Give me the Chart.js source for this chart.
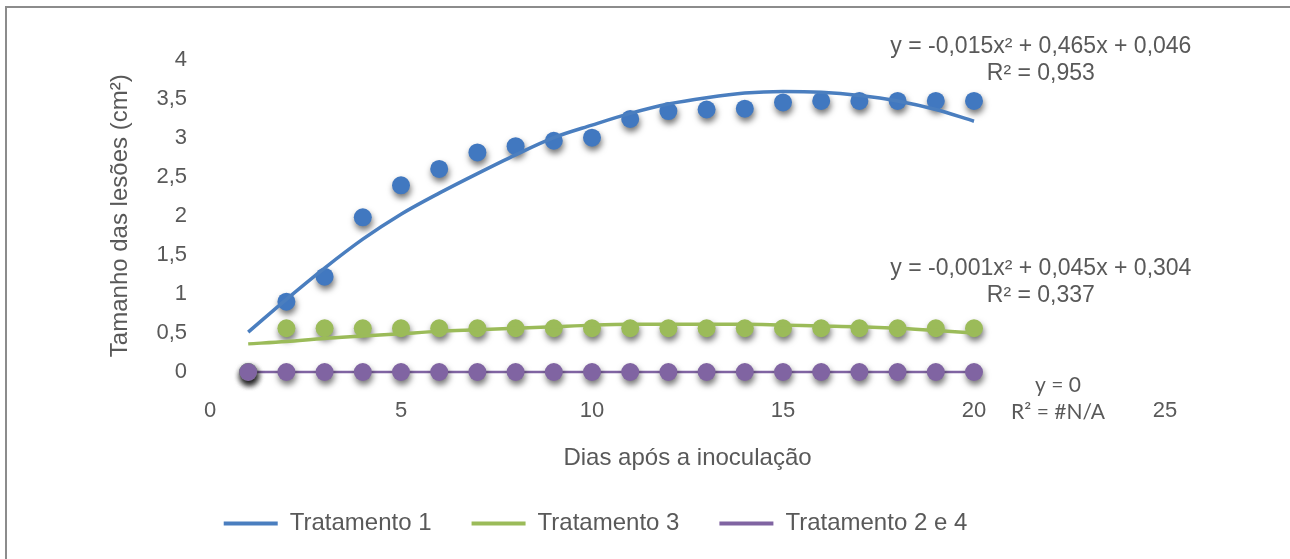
<!DOCTYPE html>
<html>
<head>
<meta charset="utf-8">
<script src="https://cdn.jsdelivr.net/npm/chart.js@4.4.0/dist/chart.umd.min.js"></script>
<style>
  html, body { margin: 0; padding: 0; background: #fff; overflow: hidden; }
  #frame { position: absolute; left: 5px; top: 6px; width: 1400px; height: 700px;
           border-top: 2px solid #8c8c8c; border-left: 2px solid #8c8c8c; }
  #wrap { position: absolute; left: 0; top: 0; width: 1290px; height: 559px; }
</style>
</head>
<body>
<div id="frame"></div>
<div id="wrap"><canvas id="lesoes"></canvas></div>
<script>
// dias após a inoculação
const days = [1, 2, 3, 4, 5, 6, 7, 8, 9, 10, 11, 12, 13, 14, 15, 16, 17, 18, 19, 20];

// tamanho das lesões (cm²)
const trat1 = [0, 0.90, 1.22, 1.98, 2.39, 2.60, 2.81, 2.89, 2.96, 3.00, 3.24, 3.34, 3.36, 3.37, 3.45, 3.47, 3.47, 3.47, 3.47, 3.47];
const trat3 = [0, 0.56, 0.56, 0.56, 0.56, 0.56, 0.56, 0.56, 0.56, 0.56, 0.56, 0.56, 0.56, 0.56, 0.56, 0.56, 0.56, 0.56, 0.56, 0.56];
const trat24 = [0, 0, 0, 0, 0, 0, 0, 0, 0, 0, 0, 0, 0, 0, 0, 0, 0, 0, 0, 0];

// linhas de tendência (polinomial)
const trend1 = [0.51, 0.93, 1.33, 1.70, 2.02, 2.29, 2.54, 2.78, 3.00, 3.16, 3.31, 3.43, 3.51, 3.57, 3.59, 3.58, 3.54, 3.47, 3.36, 3.21];
const trend3 = [0.36, 0.39, 0.43, 0.46, 0.49, 0.52, 0.54, 0.56, 0.58, 0.60, 0.61, 0.61, 0.61, 0.61, 0.60, 0.59, 0.58, 0.56, 0.53, 0.50];

const xTicks = [0, 5, 10, 15, 20, 25];
const yTicks = [0, 0.5, 1, 1.5, 2, 2.5, 3, 3.5, 4];

const seriesNames = ['Tratamento 1', 'Tratamento 3', 'Tratamento 2 e 4'];
const eqTrat1 = ['y = -0,015x² + 0,465x + 0,046', 'R² = 0,953'];
const eqTrat3 = ['y = -0,001x² + 0,045x + 0,304', 'R² = 0,337'];
const eqTrat24 = ['y = 0', 'R² = #N/A'];

const BLUE = '#4178c0';
const BLUE_LINE = '#4a7ebf';
const GREEN = '#9bbb59';
const PURPLE = '#8064a2';
const TEXT = '#595959';
const FONT = '"Liberation Sans", Arial, sans-serif';

function pts(ys) {
  return days.map((d, i) => ({ x: d, y: ys[i] }));
}

// drop shadow under the markers only
const markerShadow = {
  id: 'markerShadow',
  beforeDatasetDraw(chart, args) {
    if (!chart.data.datasets[args.index].shadow) return;
    const ctx = chart.ctx;
    ctx.save();
    ctx.shadowColor = 'rgba(0,0,0,0.55)';
    ctx.shadowBlur = 6;
    ctx.shadowOffsetX = 1;
    ctx.shadowOffsetY = 4;
  },
  afterDatasetDraw(chart, args) {
    if (chart.data.datasets[args.index].shadow) chart.ctx.restore();
  }
};

// equation / R² labels of the trendlines
const equations = {
  id: 'equations',
  afterDatasetsDraw(chart) {
    const { ctx, scales: { x, y } } = chart;
    ctx.save();
    ctx.fillStyle = TEXT;
    ctx.textAlign = 'center';
    ctx.textBaseline = 'middle';
    ctx.font = '23px ' + FONT;
    const cx = x.getPixelForValue(21.75);
    ctx.fillText(eqTrat1[0], cx, y.getPixelForValue(4.16));
    ctx.fillText(eqTrat1[1], cx, y.getPixelForValue(3.82));
    ctx.fillText(eqTrat3[0], cx, y.getPixelForValue(1.324));
    ctx.fillText(eqTrat3[1], cx, y.getPixelForValue(0.971));
    ctx.font = '21px Lato, "Open Sans", sans-serif';
    const cx2 = x.getPixelForValue(22.2);
    ctx.fillText(eqTrat24[0], cx2, y.getPixelForValue(-0.174));
    ctx.fillText(eqTrat24[1], cx2, y.getPixelForValue(-0.514));
    ctx.restore();
  }
};

const legendColors = [BLUE_LINE, GREEN, PURPLE];

new Chart(document.getElementById('lesoes'), {
  type: 'scatter',
  data: {
    datasets: [
      { label: 'trend1', data: pts(trend1), showLine: true, borderColor: BLUE_LINE, borderWidth: 3.5,
        pointRadius: 0, cubicInterpolationMode: 'monotone', order: 1, clip: false },
      { label: 'trend3', data: pts(trend3), showLine: true, borderColor: GREEN, borderWidth: 3.5,
        pointRadius: 0, cubicInterpolationMode: 'monotone', order: 0, clip: false },
      { label: seriesNames[0], data: pts(trat1), backgroundColor: BLUE, borderColor: BLUE,
        pointRadius: 9, pointBorderWidth: 0, order: 4, shadow: true, clip: false },
      { label: seriesNames[1], data: pts(trat3), backgroundColor: GREEN, borderColor: GREEN,
        pointRadius: 9, pointBorderWidth: 0, order: 3, shadow: true, clip: false },
      { label: 'linha24', data: pts(trat24), showLine: true, borderColor: PURPLE, borderWidth: 2.5,
        pointRadius: 0, order: 5, clip: false },
      { label: seriesNames[2], data: pts(trat24), backgroundColor: PURPLE, borderColor: PURPLE,
        pointRadius: 9, pointBorderWidth: 0, order: 2, shadow: true, clip: false }
    ]
  },
  options: {
    responsive: true,
    maintainAspectRatio: false,
    animation: false,
    events: [],
    layout: { padding: { left: 26, right: 125, top: 59.5, bottom: 13.5 } },
    scales: {
      x: {
        type: 'linear', min: 0, max: 25,
        afterBuildTicks: s => { s.ticks = xTicks.map(v => ({ value: v })); },
        afterFit: s => { s.height = 99.5; },
        grid: { display: false, drawTicks: false },
        border: { display: false },
        ticks: { color: TEXT, font: { family: FONT, size: 22 }, padding: 26, maxRotation: 0 },
        title: { display: true, text: 'Dias após a inoculação', color: TEXT,
                 font: { family: FONT, size: 24, lineHeight: 1 }, padding: { top: 0, bottom: 1 } }
      },
      y: {
        type: 'linear', min: 0, max: 4,
        afterBuildTicks: s => { s.ticks = yTicks.map(v => ({ value: v })); },
        afterFit: s => { s.width = 184; },
        grid: { display: false, drawTicks: false },
        border: { display: false },
        ticks: { color: TEXT, font: { family: FONT, size: 22 }, padding: 23,
                 callback: v => String(v).replace('.', ',') },
        title: { display: true, text: 'Tamanho das lesões (cm²)', color: TEXT,
                 font: { family: FONT, size: 24 }, padding: { top: 80, bottom: 0 } }
      }
    },
    plugins: {
      tooltip: { enabled: false },
      legend: {
        position: 'bottom',
        maxHeight: 89,
        labels: {
          color: TEXT,
          font: { family: FONT, size: 24 },
          usePointStyle: true,
          pointStyleWidth: 54,
          padding: 40,
          generateLabels: () => seriesNames.map((name, i) => ({
            text: name, fillStyle: legendColors[i], strokeStyle: legendColors[i],
            lineWidth: 4, pointStyle: 'line', hidden: false, fontColor: TEXT
          }))
        }
      }
    }
  },
  plugins: [markerShadow, equations]
});
</script>
</body>
</html>
